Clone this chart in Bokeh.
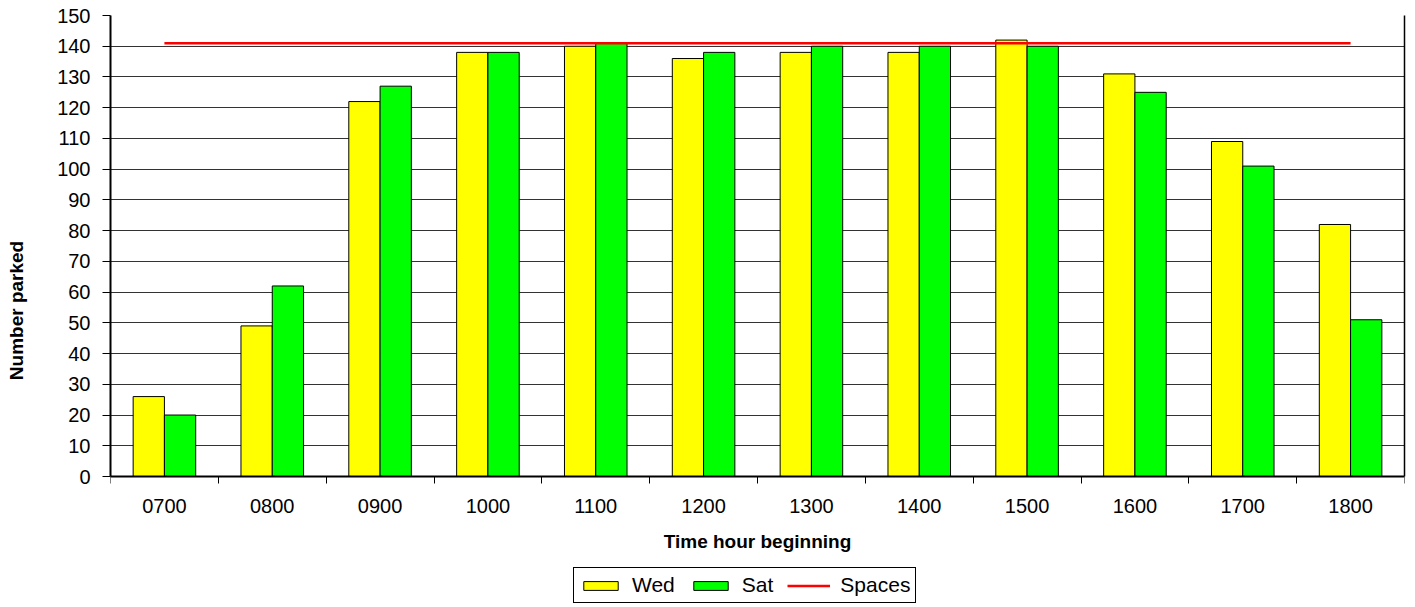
from bokeh.plotting import figure
from bokeh.models import (Range1d, FixedTicker, CustomJSTickFormatter, LinearAxis,
                          Legend, LegendItem, ColumnDataSource)
from bokeh.embed import file_html
from bokeh.resources import INLINE

hours = ["0700", "0800", "0900", "1000", "1100", "1200",
         "1300", "1400", "1500", "1600", "1700", "1800"]
wed = [26, 49, 122, 138, 140, 136, 138, 138, 142, 131, 109, 82]
sat = [20, 62, 127, 138, 141, 138, 140, 140, 140, 125, 101, 51]
spaces = [141, 141, 141, 141, 141, 141, 141, 141, 141, 141, 141, 141]
y_ticks = [0, 10, 20, 30, 40, 50, 60, 70, 80, 90, 100, 110, 120, 130, 140, 150]

FONT = "Liberation Sans"
bar_w = 0.29
centers = [i + 0.5 for i in range(len(hours))]
src = ColumnDataSource(dict(
    xw=[c - bar_w / 2 for c in centers],
    xs=[c + bar_w / 2 for c in centers],
    xc=centers, wed=wed, sat=sat, spaces=spaces))

# frame runs from y=15 to y=605; value 0 sits 129px above the frame bottom
Y_MAX = 150
y_min = -Y_MAX * 129 / 461

p = figure(width=1409, height=607, output_backend="svg", toolbar_location=None,
           x_range=Range1d(0, len(hours)), y_range=Range1d(y_min, Y_MAX),
           min_border_left=110, min_border_right=5, min_border_top=15, min_border_bottom=2)
p.background_fill_color = "white"
p.border_fill_color = "white"
p.outline_line_color = None

rw = p.vbar(x="xw", top="wed", bottom=0, width=bar_w, source=src, fill_color="#FFFF00",
            line_color="black", line_width=1)
rs = p.vbar(x="xs", top="sat", bottom=0, width=bar_w, source=src, fill_color="#00FF00",
            line_color="black", line_width=1)
rl = p.line(x="xc", y="spaces", source=src, line_color="#FF0000", line_width=2.5)

# grid
p.xgrid.visible = False
p.ygrid.ticker = FixedTicker(ticks=y_ticks)
p.ygrid.grid_line_color = "black"
p.ygrid.grid_line_alpha = 0.8
p.ygrid.grid_line_width = 1

# y axis
p.yaxis.ticker = FixedTicker(ticks=y_ticks)
p.yaxis.bounds = (0, Y_MAX)
p.yaxis.axis_label = "Number parked"
p.yaxis.axis_label_text_font = FONT
p.yaxis.axis_label_text_font_style = "bold"
p.yaxis.axis_label_text_font_size = "19px"
p.yaxis.axis_label_text_color = "black"
p.yaxis.axis_label_standoff = 27
p.yaxis.major_label_text_font = FONT
p.yaxis.major_label_text_font_size = "20px"
p.yaxis.major_label_text_color = "black"
p.yaxis.major_label_standoff = 12
p.yaxis.major_tick_out = 8
p.yaxis.major_tick_in = 0
p.yaxis.major_tick_line_color = "black"
p.yaxis.minor_tick_line_color = None
p.yaxis.axis_line_color = "black"
p.yaxis.axis_line_width = 2

# right border of the plot area
right = LinearAxis(ticker=FixedTicker(ticks=[]), bounds=(0, Y_MAX),
                   axis_line_color="black", axis_line_width=1.5,
                   major_tick_line_color=None, minor_tick_line_color=None,
                   major_label_text_font_size="0px", major_label_standoff=0)
p.add_layout(right, "right")

# x axis drawn at value 0
p.xaxis.fixed_location = 0
p.xaxis.ticker = FixedTicker(ticks=centers, minor_ticks=list(range(len(hours) + 1)))
p.xaxis.formatter = CustomJSTickFormatter(args=dict(labels=hours),
                                          code="return labels[Math.floor(tick)];")
p.xaxis.major_tick_line_color = None
p.xaxis.minor_tick_line_color = "black"
p.xaxis.minor_tick_out = 7
p.xaxis.minor_tick_in = 0
p.xaxis.major_label_text_font = FONT
p.xaxis.major_label_text_font_size = "20px"
p.xaxis.major_label_text_color = "black"
p.xaxis.major_label_standoff = 15
p.xaxis.axis_label = "Time hour beginning"
p.xaxis.axis_label_text_font = FONT
p.xaxis.axis_label_text_font_style = "bold"
p.xaxis.axis_label_text_font_size = "19px"
p.xaxis.axis_label_text_color = "black"
p.xaxis.axis_label_standoff = 15
p.xaxis.axis_line_color = "black"
p.xaxis.axis_line_width = 2

legend = Legend(items=[LegendItem(label="Wed", renderers=[rw]),
                       LegendItem(label="Sat", renderers=[rs]),
                       LegendItem(label="Spaces", renderers=[rl])],
                orientation="horizontal", location=(463, 2))
legend.label_text_font = FONT
legend.label_text_font_size = "21px"
legend.label_text_color = "black"
legend.glyph_width = 43
legend.glyph_height = 11
legend.label_standoff = 10
legend.spacing = 14
legend.padding = 5
legend.margin = 0
legend.border_line_color = "black"
legend.border_line_alpha = 1
legend.border_line_width = 1
legend.background_fill_alpha = 1
p.add_layout(legend, "center")

open("out.html", "w").write(file_html(p, INLINE))
